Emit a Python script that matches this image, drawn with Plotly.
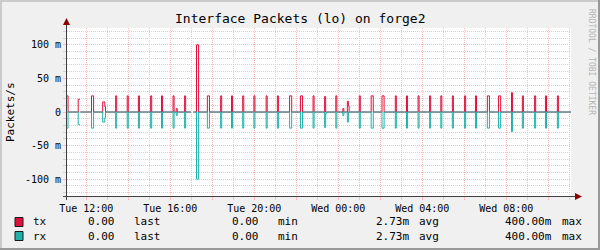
import pandas as pd
import plotly.graph_objects as go

TITLE = "Interface Packets (lo) on forge2"
Y_TITLE = "Packets/s"
WATERMARK = "RRDTOOL / TOBI OETIKER"

range_start = "2009-03-03 11:05"
range_end = "2009-03-04 11:05"

# spikes: start time, duration (minutes), tx / rx rate (packets/s)
spike_start = [
    "2009-03-03 11:03", "2009-03-03 11:37", "2009-03-03 12:15", "2009-03-03 12:47",
    "2009-03-03 12:53", "2009-03-03 13:24", "2009-03-03 13:57", "2009-03-03 14:29",
    "2009-03-03 15:04", "2009-03-03 15:35", "2009-03-03 16:08", "2009-03-03 16:17",
    "2009-03-03 16:41", "2009-03-03 17:15", "2009-03-03 17:46", "2009-03-03 18:24",
    "2009-03-03 18:55", "2009-03-03 19:27", "2009-03-03 19:59", "2009-03-03 20:34",
    "2009-03-03 21:06", "2009-03-03 21:41", "2009-03-03 22:12", "2009-03-03 22:48",
    "2009-03-03 23:21", "2009-03-03 23:24", "2009-03-03 23:53", "2009-03-04 00:13",
    "2009-03-04 00:26", "2009-03-04 00:29", "2009-03-04 01:00", "2009-03-04 01:34",
    "2009-03-04 02:05", "2009-03-04 02:43", "2009-03-04 03:15", "2009-03-04 03:48",
    "2009-03-04 04:21", "2009-03-04 04:53", "2009-03-04 05:26", "2009-03-04 06:01",
    "2009-03-04 06:32", "2009-03-04 07:06", "2009-03-04 07:38", "2009-03-04 08:15",
    "2009-03-04 08:46", "2009-03-04 09:21", "2009-03-04 09:52", "2009-03-04 10:26",
]
spike_minutes = [
    5, 5, 6, 6,
    2, 3, 3, 3,
    3, 3, 3, 3,
    3, 6, 6, 3,
    3, 3, 3, 3,
    3, 6, 6, 3,
    3, 3, 3, 3,
    3, 2, 3, 6,
    6, 3, 3, 3,
    3, 3, 3, 3,
    3, 6, 6, 3,
    3, 3, 3, 3,
]
tx_values = [
    0.024, 0.019, 0.024, 0.015,
    0.008, 0.024, 0.024, 0.024,
    0.024, 0.024, 0.024, 0.005,
    0.024, 0.100, 0.024, 0.024,
    0.024, 0.024, 0.024, 0.024,
    0.024, 0.024, 0.024, 0.024,
    0.023, 0.000, 0.024, 0.005,
    0.016, 0.009, 0.024, 0.024,
    0.024, 0.024, 0.024, 0.024,
    0.024, 0.024, 0.024, 0.024,
    0.024, 0.024, 0.024, 0.0287,
    0.024, 0.024, 0.024, 0.024,
]
rx_values = [
    0.024, 0.019, 0.024, 0.015,
    0.0085, 0.024, 0.024, 0.024,
    0.024, 0.024, 0.024, 0.005,
    0.024, 0.100, 0.024, 0.024,
    0.024, 0.024, 0.024, 0.024,
    0.024, 0.024, 0.024, 0.024,
    0.023, 0.002, 0.024, 0.0055,
    0.015, 0.000, 0.024, 0.024,
    0.024, 0.024, 0.024, 0.024,
    0.024, 0.024, 0.024, 0.024,
    0.024, 0.024, 0.024, 0.029,
    0.024, 0.024, 0.024, 0.024,
]
# unknown (no data) periods
gap_start = ["2009-03-03 11:42", "2009-03-03 16:59"]
gap_minutes = [1, 7]

tick_times = [
    "2009-03-03 12:00", "2009-03-03 14:00", "2009-03-03 16:00", "2009-03-03 18:00",
    "2009-03-03 20:00", "2009-03-03 22:00", "2009-03-04 00:00", "2009-03-04 02:00",
    "2009-03-04 04:00", "2009-03-04 06:00", "2009-03-04 08:00", "2009-03-04 10:00",
]
tick_labels = [
    "Tue 12:00", "", "Tue 16:00", "", "Tue 20:00", "", "Wed 00:00", "",
    "Wed 04:00", "", "Wed 08:00", "",
]
y_tick_values = [-0.1, -0.05, 0, 0.05, 0.1]
y_tick_labels = ["-100 m", "-50 m", "0", "50 m", "100 m"]

series_names = ["tx", "rx"]
series_colors = ["#E0103C", "#20B2AA"]
stat_last = ["0.00", "0.00"]
stat_min = ["0.00", "0.00"]
stat_avg = ["2.73m", "2.73m"]
stat_max = ["400.00m", "400.00m"]

# ---------------------------------------------------------------
W, H = 600, 250
PL, PR, PT, PB = 67, 571, 28, 196   # plot area in pixels
FONT = "DejaVu Sans Mono"


def px(x):
    return (x - PL) / (PR - PL)


def py(y):
    return (PB - y) / (PB - PT)


def build(values):
    segs = []
    for s, d, v in zip(spike_start, spike_minutes, values):
        t0 = pd.Timestamp(s)
        segs.append((t0, t0 + pd.Timedelta(minutes=d), v))
    for s, d in zip(gap_start, gap_minutes):
        t0 = pd.Timestamp(s)
        segs.append((t0, t0 + pd.Timedelta(minutes=d), None))
    segs.sort(key=lambda s: s[0])
    full = []
    cur = pd.Timestamp(range_start) - pd.Timedelta(minutes=10)
    for t0, t1, v in segs:
        if t0 > cur:
            full.append((cur, t0, 0.0))
        full.append((t0, t1, v))
        cur = t1
    full.append((cur, pd.Timestamp(range_end) + pd.Timedelta(minutes=10), 0.0))
    xs, ys = [], []
    for t0, t1, v in full:
        if v is None:
            xs.append(t0)
            ys.append(None)
        else:
            xs += [t0, t1]
            ys += [v, v]
    return xs, ys


fig = go.Figure()
tx_x, tx_y = build(tx_values)
rx_x, rx_y = build(rx_values)
rx_y = [None if v is None else -v for v in rx_y]
fig.add_trace(go.Scatter(x=tx_x, y=tx_y, mode="lines", line=dict(color=series_colors[0], width=1, shape="hv"),
                         connectgaps=False, name=series_names[0]))
fig.add_trace(go.Scatter(x=rx_x, y=rx_y, mode="lines", line=dict(color=series_colors[1], width=1, shape="hv"),
                         connectgaps=False, name=series_names[1]))

GRID = "#D2D2D2"
MGRID = "#FFBABA"
DASH = "1px,1px"

fig.update_layout(
    width=W, height=H,
    margin=dict(l=PL, r=W - PR, t=PT, b=H - PB, pad=0),
    paper_bgcolor="#F0F0F0", plot_bgcolor="#FFFFFF",
    showlegend=False,
    font=dict(family=FONT, size=10, color="#000000"),
    xaxis=dict(
        type="date", range=[range_start, range_end],
        tickmode="array", tickvals=tick_times, ticktext=tick_labels,
        showgrid=True, gridcolor=MGRID, griddash=DASH, gridwidth=1,
        ticks="outside", ticklen=3, tickcolor=MGRID, tickwidth=1,
        minor=dict(dtick=3600000, tick0="2009-03-03 00:00", showgrid=True, gridcolor=GRID,
                   griddash=DASH, gridwidth=1, ticks="outside", ticklen=3, tickcolor=GRID),
        showline=False, zeroline=False, tickangle=0,
        tickfont=dict(family=FONT, size=10, color="#000000"),
        fixedrange=True,
    ),
    yaxis=dict(
        range=[-0.125, 0.125],
        tickmode="array", tickvals=y_tick_values, ticktext=y_tick_labels,
        showgrid=True, gridcolor=MGRID, griddash=DASH, gridwidth=1,
        ticks="outside", ticklen=3, tickcolor=MGRID, tickwidth=1,
        minor=dict(dtick=0.01, tick0=0, showgrid=True, gridcolor=GRID,
                   griddash=DASH, gridwidth=1, ticks="outside", ticklen=3, tickcolor=GRID),
        showline=False, zeroline=False,
        tickfont=dict(family=FONT, size=10, color="#000000"),
        fixedrange=True,
    ),
)

shapes = []
# frame shading
shapes.append(dict(type="rect", xref="paper", yref="paper", x0=px(0), x1=px(W), y0=py(0), y1=py(2),
                   fillcolor="#CBCBCB", line=dict(width=0), layer="below"))
shapes.append(dict(type="rect", xref="paper", yref="paper", x0=px(0), x1=px(2), y0=py(0), y1=py(H),
                   fillcolor="#CBCBCB", line=dict(width=0), layer="below"))
shapes.append(dict(type="rect", xref="paper", yref="paper", x0=px(0), x1=px(W), y0=py(H - 2), y1=py(H),
                   fillcolor="#999999", line=dict(width=0), layer="below"))
shapes.append(dict(type="rect", xref="paper", yref="paper", x0=px(W - 2), x1=px(W), y0=py(0), y1=py(H),
                   fillcolor="#999999", line=dict(width=0), layer="below"))
# axes
shapes.append(dict(type="line", xref="paper", yref="paper", x0=px(63), x1=px(577), y0=py(196.5), y1=py(196.5),
                   line=dict(color="#404040", width=1)))
shapes.append(dict(type="line", xref="paper", yref="paper", x0=px(66.5), x1=px(66.5), y0=py(200), y1=py(24),
                   line=dict(color="#404040", width=1)))
# arrows
shapes.append(dict(type="path", xref="paper", yref="paper",
                   path=f"M {px(582)} {py(196.5)} L {px(575)} {py(193)} L {px(575)} {py(200)} Z",
                   fillcolor="#8B0000", line=dict(color="#8B0000", width=0)))
shapes.append(dict(type="path", xref="paper", yref="paper",
                   path=f"M {px(66.5)} {py(18)} L {px(63)} {py(25)} L {px(70)} {py(25)} Z",
                   fillcolor="#8B0000", line=dict(color="#8B0000", width=0)))
# legend swatches
row_y = [222, 236]
for i in range(2):
    shapes.append(dict(type="rect", xref="paper", yref="paper", x0=px(15), x1=px(23),
                       y0=py(row_y[i] - 4.5), y1=py(row_y[i] + 4.5),
                       fillcolor=series_colors[i], line=dict(color="#1A1A1A", width=1)))
fig.update_layout(shapes=shapes)

anns = []


def text(x, y, s, size=11, xanchor="left", angle=0, color="#000000"):
    anns.append(dict(x=px(x), y=py(y), xref="paper", yref="paper", text=s, showarrow=False,
                     xanchor=xanchor, yanchor="middle", textangle=angle,
                     font=dict(family=FONT, size=size, color=color)))


text(300, 19, TITLE, size=13, xanchor="center")
text(10, 112, Y_TITLE, size=11, xanchor="center", angle=-90)
text(591, 62, WATERMARK, size=8, xanchor="center", angle=90, color="#B4B4B4")
for i in range(2):
    y = row_y[i]
    text(30.5, y, series_names[i])
    text(117, y, stat_last[i], xanchor="right")
    text(132, y, "last")
    text(260.5, y, stat_min[i], xanchor="right")
    text(275.5, y, "min")
    text(410.5, y, stat_avg[i], xanchor="right")
    text(417, y, "avg")
    text(553.5, y, stat_max[i], xanchor="right")
    text(560, y, "max")
fig.update_layout(annotations=anns)

fig.write_html("out.html")
